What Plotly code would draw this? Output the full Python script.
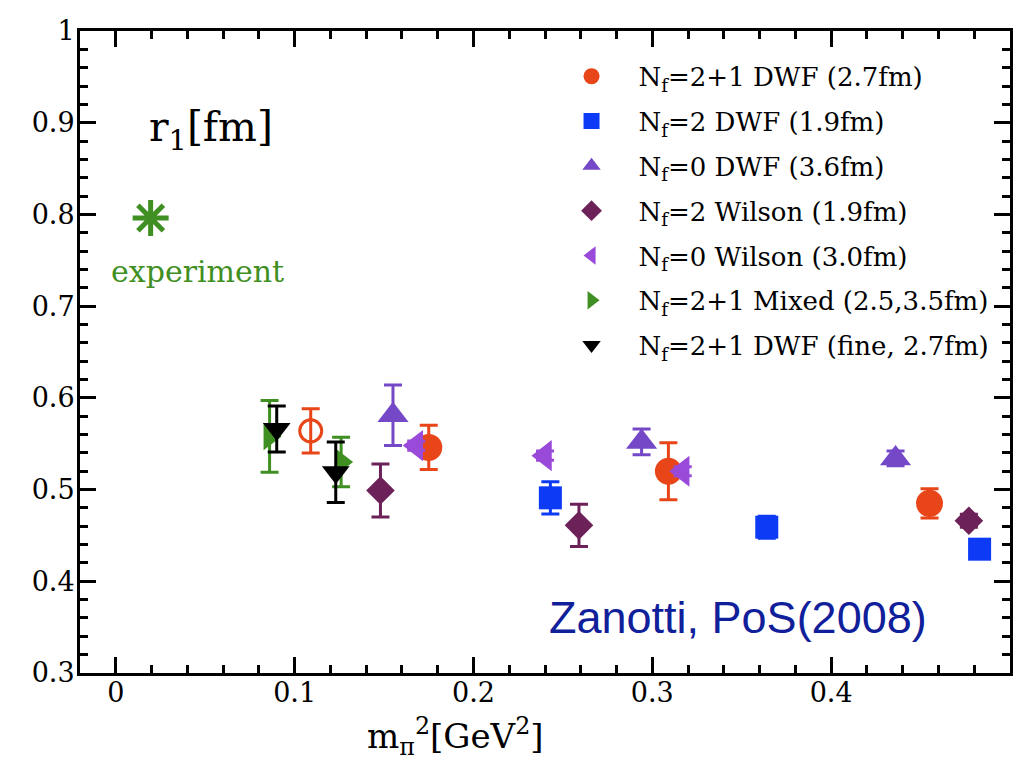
import plotly.graph_objects as go

# ---- data ----
dwf21_x = [0.175, 0.309, 0.455]
dwf21_y = [0.546, 0.520, 0.485]
dwf21_e = [0.024, 0.031, 0.016]

dwf21_open_x = [0.109]
dwf21_open_y = [0.564]
dwf21_open_e = [0.024]

dwf2_x = [0.243, 0.364, 0.483]
dwf2_y = [0.491, 0.459, 0.435]
dwf2_e = [0.0175, 0.012, 0.005]

dwf0_x = [0.155, 0.294, 0.436]
dwf0_y = [0.581, 0.552, 0.534]
dwf0_e = [0.033, 0.014, 0.008]

wil2_x = [0.148, 0.259, 0.477]
wil2_y = [0.499, 0.461, 0.466]
wil2_e = [0.029, 0.023, 0.007]

wil0_x = [0.168, 0.240, 0.317]
wil0_y = [0.548, 0.537, 0.520]
wil0_e = [0.005, 0.005, 0.005]

mixed_x = [0.086, 0.126]
mixed_y = [0.558, 0.530]
mixed_e = [0.039, 0.027]

fine_x = [0.090, 0.123]
fine_y = [0.566, 0.519]
fine_e = [0.025, 0.033]

exp_x = [0.0195]
exp_y = [0.796]

x_ticks = [0, 0.1, 0.2, 0.3, 0.4]
x_ticktext = ["0", "0.1", "0.2", "0.3", "0.4"]
y_ticks = [0.3, 0.4, 0.5, 0.6, 0.7, 0.8, 0.9, 1.0]
y_ticktext = ["0.3", "0.4", "0.5", "0.6", "0.7", "0.8", "0.9", "1"]

ORANGE = "#E84518"
BLUE = "#0D3BF5"
PURPLE = "#7548C7"
DIAMOND = "#6C2259"
VIOLET = "#9A4AD9"
GREEN = "#3F8F22"
BLACK = "#000000"

SERIF = "DejaVu Serif"

fig = go.Figure()


def err(arr, color):
    return dict(type="data", array=arr, color=color, thickness=3, width=9, visible=True)


def add(x, y, e, name, color, symbol, size, group, showlegend=True, line=None):
    marker = dict(color=color, symbol=symbol, size=size, line=line or dict(width=0))
    fig.add_trace(go.Scatter(
        x=x, y=y, mode="markers", name=name, marker=marker,
        error_y=err(e, color), showlegend=showlegend, legendgroup=group,
    ))


add(dwf21_open_x, dwf21_open_y, dwf21_open_e, "open", ORANGE, "circle-open", 22, "g1",
    showlegend=False, line=dict(width=3, color=ORANGE))
add(dwf21_x, dwf21_y, dwf21_e, "N<sub>f</sub>=2+1 DWF (2.7fm)", ORANGE, "circle", 27, "g1")
add(dwf2_x, dwf2_y, dwf2_e, "N<sub>f</sub>=2 DWF (1.9fm)", BLUE, "square", 23, "g2")
add(dwf0_x, dwf0_y, dwf0_e, "N<sub>f</sub>=0 DWF (3.6fm)", PURPLE, "triangle-up", 27, "g3")
add(wil2_x, wil2_y, wil2_e, "N<sub>f</sub>=2 Wilson (1.9fm)", DIAMOND, "diamond", 22, "g4")
add(wil0_x, wil0_y, wil0_e, "N<sub>f</sub>=0 Wilson (3.0fm)", VIOLET, "triangle-left", 27, "g5")
add(mixed_x, mixed_y, mixed_e, "N<sub>f</sub>=2+1 Mixed (2.5,3.5fm)", GREEN, "triangle-right", 24, "g6")
add(fine_x, fine_y, fine_e, "N<sub>f</sub>=2+1 DWF (fine, 2.7fm)", BLACK, "triangle-down", 24, "g7")

fig.add_trace(go.Scatter(
    x=exp_x, y=exp_y, mode="markers", showlegend=False, name="experiment",
    marker=dict(symbol="asterisk-open", size=30, line=dict(width=5, color=GREEN), color=GREEN),
))

axis_common = dict(
    showline=True, linewidth=3, linecolor="black", mirror="ticks",
    ticks="inside", ticklen=16, tickwidth=3, tickcolor="black",
    showgrid=False, zeroline=False, ticklabeloverflow="allow",
    tickfont=dict(family=SERIF, size=27, color="black"),
)

fig.update_xaxes(
    range=[-0.02, 0.5], tickvals=x_ticks, ticktext=x_ticktext,
    minor=dict(ticks="inside", ticklen=8, tickwidth=3, tickcolor="black", dtick=0.02, tick0=0),
    ticklabelstandoff=-6,
    **axis_common,
)
fig.update_yaxes(
    range=[0.3, 1.0], tickvals=y_ticks, ticktext=y_ticktext,
    minor=dict(ticks="inside", ticklen=8, tickwidth=3, tickcolor="black", dtick=0.02, tick0=0.3),
    ticklabelstandoff=-3,
    **axis_common,
)

fig.add_annotation(x=0.0535, y=0.892, xref="x", yref="y", text="r<sub>1</sub>[fm]",
                   showarrow=False, font=dict(family=SERIF, size=41, color="black"))
fig.add_annotation(x=0.0455, y=0.738, xref="x", yref="y", text="experiment",
                   showarrow=False, font=dict(family=SERIF, size=30, color=GREEN))
fig.add_annotation(x=0.348, y=0.360, xref="x", yref="y", text="Zanotti, PoS(2008)",
                   showarrow=False, font=dict(family="Liberation Sans", size=45, color="#10209A"))
fig.add_annotation(x=0.19, y=-0.057, xref="x", yref="paper", text="m<sub>π</sub><sup>2</sup>[GeV<sup>2</sup>]",
                   showarrow=False, yanchor="top", font=dict(family=SERIF, size=34, color="black"))

# page body has an 8px margin: shift figure so the plot area lands where the reference has it
fig.update_layout(
    width=1012, height=756,
    margin=dict(l=72, r=7, t=13, b=91),
    plot_bgcolor="white", paper_bgcolor="white",
    legend=dict(
        x=0.4995, y=0.966, xanchor="left", yanchor="top",
        font=dict(family=SERIF, size=26, color="black"),
        bgcolor="rgba(0,0,0,0)", tracegroupgap=8, itemsizing="trace", itemwidth=84,
    ),
)

fig.write_html("out.html")
